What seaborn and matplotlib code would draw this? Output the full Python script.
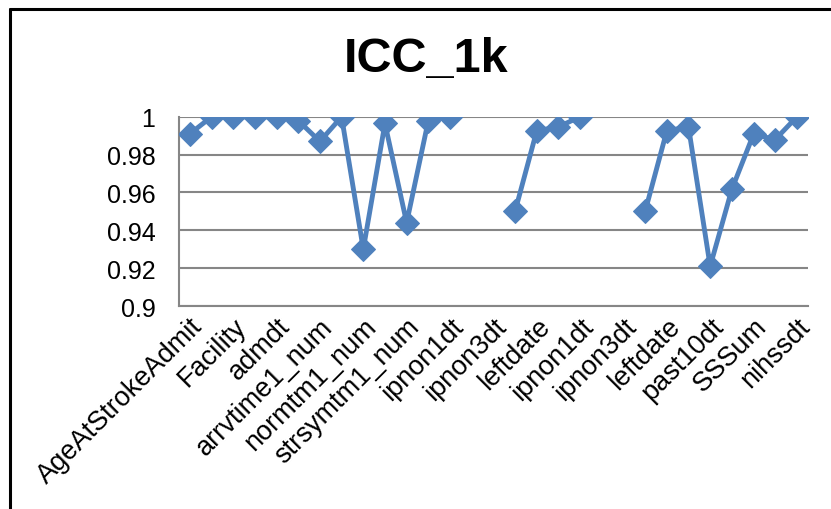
import numpy as np
import pandas as pd
import seaborn as sns
import matplotlib.pyplot as plt
from matplotlib.lines import Line2D

# x labels shown on every other category (Excel skip)
shown_labels = ['AgeAtStrokeAdmit', 'Facility', 'admdt', 'arrvtime1_num', 'normtm1_num',
                'strsymtm1_num', 'ipnon1dt', 'ipnon3dt', 'leftdate', 'ipnon1dt',
                'ipnon3dt', 'leftdate', 'past10dt', 'SSSum', 'nihssdt']
icc = [0.991, 1.0, 1.0, 1.0, 1.0, 0.998, 0.987, 1.0, 0.930, 0.9965, 0.944, 0.998, 1.0,
       np.nan, np.nan, 0.950, 0.9926, 0.9947, 1.0,
       np.nan, np.nan, 0.950, 0.9926, 0.9947, 0.921, 0.9617, 0.9908, 0.988, 1.0]

df = pd.DataFrame({'pos': np.arange(len(icc)), 'icc': icc})
# break the line where values are missing
df['seg'] = df['icc'].isna().cumsum()
df = df.dropna()

sns.set_style('white')
plt.rcParams['font.family'] = ['Liberation Sans', 'DejaVu Sans']
plt.rcParams['text.color'] = 'black'
plt.rcParams['xtick.labelcolor'] = 'black'
plt.rcParams['ytick.labelcolor'] = 'black'

fig = plt.figure(figsize=(8.31, 5.10), dpi=100)
ax = fig.add_axes([0.2154, 0.398, 0.7566, 0.371])

sns.lineplot(data=df, x='pos', y='icc', units='seg', estimator=None, ax=ax,
             color='#4F81BD', linewidth=3.5, marker='D', markersize=12.5,
             markeredgecolor='#4F81BD', zorder=3)

ax.set_xlim(-0.5, len(icc) - 0.5)
ax.set_ylim(0.9, 1.0)
ax.set_yticks([0.9, 0.92, 0.94, 0.96, 0.98, 1.0])
ax.set_yticklabels(['0.9', '0.92', '0.94', '0.96', '0.98', '1'])
ax.set_xticks(np.arange(0, len(icc), 2))
ax.set_xticklabels(shown_labels, rotation=45, ha='right', rotation_mode='anchor')
ax.set_xticks(np.arange(-0.5, len(icc), 1), minor=True)
ax.tick_params(axis='x', which='major', length=0, labelsize=19.5, pad=5)
ax.tick_params(axis='x', which='minor', length=6, color='#868686', width=1.2, direction='out')
ax.tick_params(axis='y', length=6, color='#868686', width=1.2, direction='out', labelsize=18, pad=11)
ax.grid(axis='y', color='#868686', linewidth=1.5)
ax.set_axisbelow(True)
for s in ['top', 'right']:
    ax.spines[s].set_visible(False)
for s in ['left', 'bottom']:
    ax.spines[s].set_color('#868686')
    ax.spines[s].set_linewidth(1.5)
ax.set_xlabel('')
ax.set_ylabel('')

fig.text(0.513, 0.883, 'ICC_1k', ha='center', va='center', fontsize=35, fontweight='bold')

# chart frame
fig.add_artist(Line2D([10 / 831, 10 / 831], [0, 1 - 10 / 510], color='black', linewidth=2.2))
fig.add_artist(Line2D([10 / 831, 1], [1 - 10 / 510, 1 - 10 / 510], color='black', linewidth=2.2))

fig.savefig('out.png', dpi=100)
